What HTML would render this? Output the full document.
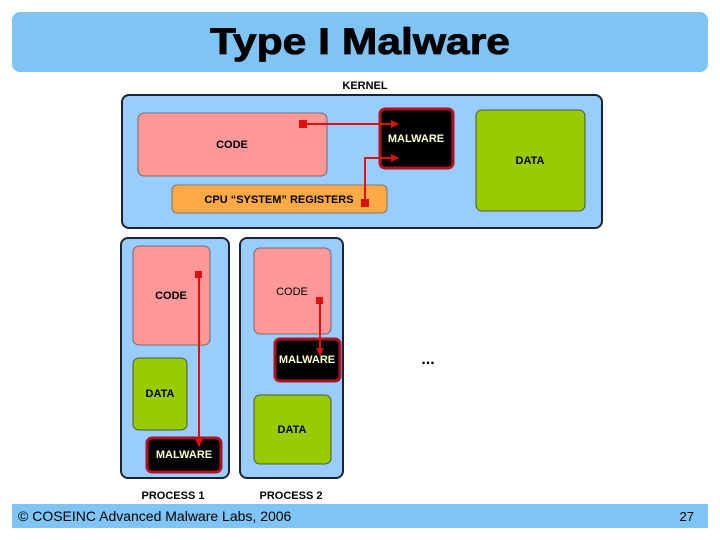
<!DOCTYPE html>
<html><head><meta charset="utf-8"><style>
html,body{margin:0;padding:0;background:#fff;width:720px;height:540px;overflow:hidden}
svg text{font-family:"Liberation Sans",sans-serif;font-weight:bold}
</style></head><body>
<svg width="720" height="540" xmlns="http://www.w3.org/2000/svg">
<defs><marker id="a" markerWidth="8" markerHeight="8" refX="7" refY="4" orient="auto" markerUnits="userSpaceOnUse"><path d="M0,0 L8,4 L0,8 z" fill="#e01010"/></marker></defs>
<rect x="12" y="12" width="696" height="60" rx="8" fill="#80c4f4"/>
<text x="210" y="54" font-size="37" textLength="300" lengthAdjust="spacingAndGlyphs" fill="#000" stroke="#000" stroke-width="0.8">Type I Malware</text>
<rect x="12" y="504" width="696" height="24" fill="#80c4f4"/>
<text x="18" y="521" font-size="14" style="font-weight:normal">© COSEINC Advanced Malware Labs, 2006</text>
<text x="694" y="521" font-size="13" text-anchor="end" style="font-weight:normal">27</text>

<text x="365" y="89" font-size="11" text-anchor="middle">KERNEL</text>
<rect x="122" y="95" width="480" height="133" rx="7" fill="#99ccff" stroke="#1a2533" stroke-width="2"/>
<rect x="138" y="113" width="189" height="63" rx="6" fill="#ff9999" stroke="#555" stroke-width="0.8"/>
<text x="232" y="148" font-size="11" text-anchor="middle">CODE</text>
<rect x="172" y="185" width="215" height="28" rx="5" fill="#ffaa44" stroke="#666" stroke-width="0.8"/>
<text x="279" y="203" font-size="11" text-anchor="middle">CPU “SYSTEM” REGISTERS</text>
<rect x="380" y="109" width="73" height="59" rx="5" fill="#000" stroke="#b01020" stroke-width="3"/>
<text x="416" y="142" font-size="11" text-anchor="middle" fill="#ffffcc">MALWARE</text>
<rect x="476" y="110" width="109" height="101" rx="6" fill="#99cc00" stroke="#333" stroke-width="0.8"/>
<text x="530" y="164" font-size="11" text-anchor="middle">DATA</text>
<rect x="299" y="120" width="8" height="8" fill="#e01010"/>
<line x1="303" y1="124" x2="398" y2="124" stroke="#e01010" stroke-width="2" marker-end="url(#a)"/>
<rect x="361" y="199" width="8" height="8" fill="#e01010"/>
<polyline points="365,203 365,158 398,158" fill="none" stroke="#e01010" stroke-width="2" marker-end="url(#a)"/>

<rect x="121" y="238" width="108" height="240" rx="7" fill="#99ccff" stroke="#1a2533" stroke-width="2"/>
<rect x="133" y="246" width="77" height="99" rx="6" fill="#ff9999" stroke="#555" stroke-width="0.8"/>
<text x="171" y="299" font-size="11" text-anchor="middle">CODE</text>
<rect x="133" y="358" width="54" height="72" rx="6" fill="#99cc00" stroke="#333" stroke-width="0.8"/>
<text x="160" y="397" font-size="11" text-anchor="middle">DATA</text>
<rect x="147" y="438" width="74" height="34" rx="5" fill="#000" stroke="#b01020" stroke-width="3"/>
<text x="184" y="458" font-size="11" text-anchor="middle" fill="#ffffcc">MALWARE</text>
<rect x="195" y="271" width="7" height="7" fill="#e01010"/>
<line x1="199" y1="274" x2="199" y2="446" stroke="#e01010" stroke-width="2" marker-end="url(#a)"/>

<rect x="240" y="238" width="103" height="240" rx="7" fill="#99ccff" stroke="#1a2533" stroke-width="2"/>
<rect x="254" y="248" width="77" height="86" rx="6" fill="#ff9999" stroke="#555" stroke-width="0.8"/>
<text x="292" y="295" font-size="11" text-anchor="middle" style="font-weight:normal">CODE</text>
<rect x="254" y="395" width="77" height="69" rx="6" fill="#99cc00" stroke="#333" stroke-width="0.8"/>
<text x="292" y="433" font-size="11" text-anchor="middle">DATA</text>
<rect x="275" y="339" width="65" height="42" rx="5" fill="#000" stroke="#b01020" stroke-width="3"/>
<text x="307" y="363" font-size="11" text-anchor="middle" fill="#ffffcc">MALWARE</text>
<rect x="316" y="297" width="7" height="7" fill="#e01010"/>
<line x1="320" y1="300" x2="320" y2="355" stroke="#e01010" stroke-width="2" marker-end="url(#a)"/>

<text x="428" y="364" font-size="16" text-anchor="middle">...</text>
<text x="173" y="499" font-size="11" text-anchor="middle">PROCESS 1</text>
<text x="291" y="499" font-size="11" text-anchor="middle">PROCESS 2</text>
</svg>
</body></html>
